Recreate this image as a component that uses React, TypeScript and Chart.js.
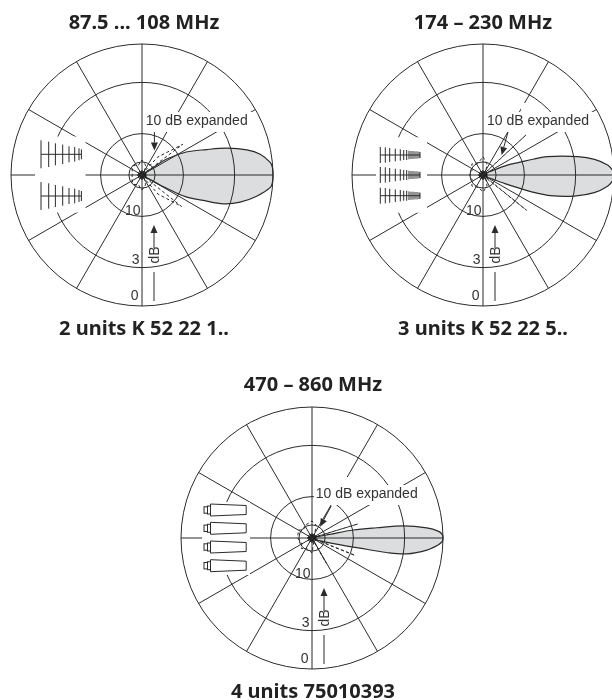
import React, { useEffect, useRef } from "react";
import { Chart, registerables } from "chart.js";

Chart.register(...registerables);

// Bearings of the polar axis, clockwise from the main lobe, half a degree apart.
const bearings = Array.from({ length: 720 }, (_, i) => i / 2);

// Relative field strength rings: centre, "10 dB expanded" 10 dB, 10 dB, 3 dB, 0 dB.
const ringLevels = [0, 0.1, 0.316, 0.707, 1];
const ringTickValues = [0.316, 0.707, 1];
const ringTickLabels = ["10", "3", "0"];

// 87.5 ... 108 MHz
const fmAngles = [0, 3, 5.5, 10.5, 15.5, 19.5, 22.5, 26.5, 28, 29, 31, 34, 326, 326.5, 327.2, 332.5, 338.3, 342.5, 346.5, 350, 354.5, 357];
const fmValues = [1, 0.998, 0.985, 0.89, 0.777, 0.66, 0.507, 0.37, 0.24, 0.12, 0.04, 0.02, 0.02, 0.1, 0.22, 0.38, 0.53, 0.68, 0.823, 0.916, 0.985, 0.998];
const fmDashAngles = [38, 38.5, 50, 56, 70, 90, 110, 135, 160, 200, 225, 250, 270, 290, 304, 311, 323, 323.5];
const fmDashValues = [0.03, 0.385, 0.19, 0.03, 0.08, 0.115, 0.08, 0.1, 0.08, 0.08, 0.1, 0.08, 0.115, 0.08, 0.03, 0.18, 0.39, 0.03];

// 174 - 230 MHz
const vhfAngles = [0, 2.5, 5, 9, 13, 17, 19, 20, 21.5, 23, 26, 334, 335, 338, 341, 342.5, 344, 349, 352, 355.4, 358];
const vhfValues = [1, 0.99, 0.957, 0.86, 0.716, 0.54, 0.4, 0.3, 0.18, 0.08, 0.02, 0.02, 0.08, 0.2, 0.3, 0.4, 0.51, 0.737, 0.86, 0.957, 0.99];
const vhfDashAngles = [38.5, 39, 46, 70, 90, 110, 135, 160, 180, 200, 225, 250, 270, 290, 314, 317, 317.5];
const vhfDashValues = [0.03, 0.427, 0.03, 0.09, 0.13, 0.1, 0.12, 0.09, 0.1, 0.09, 0.12, 0.1, 0.14, 0.09, 0.03, 0.45, 0.03];

// 470 - 860 MHz
const uhfAngles = [0, 1.5, 3.2, 6, 9.5, 11, 12, 14, 19, 26, 334, 347.5, 348.3, 349, 351, 352.5, 355.2, 357, 358.5];
const uhfValues = [1, 0.995, 0.968, 0.882, 0.734, 0.58, 0.374, 0.192, 0.06, 0.02, 0.02, 0.047, 0.138, 0.32, 0.5, 0.704, 0.88, 0.968, 0.995];
const uhfDashAngles = [21.5, 22, 25, 58, 60.5, 62, 90, 100, 120, 135, 150, 180, 210, 225, 240, 270, 290, 305, 340, 343, 343.5];
const uhfDashValues = [0.03, 0.355, 0.03, 0.03, 0.22, 0.03, 0.115, 0.1, 0.09, 0.115, 0.09, 0.11, 0.12, 0.09, 0.11, 0.13, 0.1, 0.03, 0.03, 0.365, 0.03];

// Rear-lobe cluster at the pole, common to all three diagrams.
const rearAngles = [0, 30, 45, 60, 75, 90, 105, 120, 135, 150, 165, 180, 195, 210, 225, 240, 255, 270, 285, 300, 315, 330];
const rearValues = [0.03, 0.036, 0.018, 0.034, 0.016, 0.036, 0.018, 0.034, 0.016, 0.036, 0.018, 0.036, 0.018, 0.034, 0.016, 0.036, 0.018, 0.034, 0.016, 0.036, 0.018, 0.034];

const titles = ["87.5 ... 108 MHz", "174 \u2013 230 MHz", "470 \u2013 860 MHz"];
const captions = ["2 units K 52 22 1..", "3 units K 52 22 5..", "4 units 75010393"];
const expandedLabel = "10 dB expanded";
const axisLabel = "dB";

const INK = "#2b2b2b";
const LOBE = "#dcddde";
const CANVAS = 290;
const PAD = 14;

const sparse = (angles: number[], values: number[]) => {
  const out: (number | null)[] = bearings.map(() => null);
  angles.forEach((a, i) => {
    out[Math.round(a * 2)] = values[i];
  });
  return out;
};

type Box = [number, number, number, number];
type Arrow = { from: [number, number]; tip: [number, number] };

const lineOf = (c: CanvasRenderingContext2D, x1: number, y1: number, x2: number, y2: number) => {
  c.beginPath();
  c.moveTo(x1, y1);
  c.lineTo(x2, y2);
  c.stroke();
};

const drawArrow = (c: CanvasRenderingContext2D, x0: number, y0: number, a: Arrow) => {
  const fx = x0 + a.from[0], fy = y0 + a.from[1], tx = x0 + a.tip[0], ty = y0 + a.tip[1];
  const len = Math.hypot(tx - fx, ty - fy);
  const ux = (tx - fx) / len, uy = (ty - fy) / len;
  const bx = tx - ux * 8, by = ty - uy * 8;
  lineOf(c, fx, fy, bx, by);
  c.beginPath();
  c.moveTo(tx, ty);
  c.lineTo(bx - uy * 3.5, by + ux * 3.5);
  c.lineTo(bx + uy * 3.5, by - ux * 3.5);
  c.closePath();
  c.fill();
};

const yagi = (xs: number[], halves: number[], booms: number[]) => (c: CanvasRenderingContext2D, x0: number, y0: number) => {
  booms.forEach((b) => {
    c.lineWidth = 1;
    lineOf(c, x0 + xs[0], y0 + b, x0 + xs[xs.length - 1], y0 + b);
    xs.forEach((x, i) => lineOf(c, x0 + x, y0 + b - halves[i], x0 + x, y0 + b + halves[i]));
  });
};

const panels = (c: CanvasRenderingContext2D, x0: number, y0: number) => {
  [-28, -9.7, 9, 27.7].forEach((b) => {
    c.lineWidth = 1;
    const y = y0 + b;
    c.strokeRect(x0 - 108, y - 3.2, 3.5, 6.4);
    c.strokeRect(x0 - 104.5, y - 4, 3, 8);
    c.beginPath();
    c.moveTo(x0 - 101.5, y - 6);
    c.lineTo(x0 - 65.8, y - 4.5);
    c.lineTo(x0 - 65.8, y + 4.5);
    c.lineTo(x0 - 101.5, y + 6);
    c.closePath();
    c.stroke();
  });
};

type Spec = {
  cx: number;
  cy: number;
  main: (number | null)[];
  dash: (number | null)[];
  masks: Box[];
  labelAt: [number, number];
  arrow: Arrow;
  antenna: (c: CanvasRenderingContext2D, x0: number, y0: number) => void;
};

const specs: Spec[] = [
  {
    cx: 142, cy: 175,
    main: sparse(fmAngles, fmValues),
    dash: sparse(fmDashAngles, fmDashValues),
    masks: [[-107, -38.5, 50.5, 76], [2, -63, 108, 20]],
    labelAt: [3.7, -54],
    arrow: { from: [12.4, -43], tip: [12.4, -24.5] },
    antenna: yagi([-101, -93.3, -86.6, -79.3, -73, -67.3, -63, -60.6], [14, 12.7, 11, 9.7, 8, 7.3, 6, 5], [-20.7, 21]),
  },
  {
    cx: 483, cy: 175,
    main: sparse(vhfAngles, vhfValues),
    dash: sparse(vhfDashAngles, vhfDashValues),
    masks: [[-107, -37.7, 51, 75.4], [2, -63, 108, 20], [38, -72, 12, 9]],
    labelAt: [4, -54],
    arrow: { from: [25, -43], tip: [18.6, -20] },
    antenna: yagi(
      [-102.7, -97.7, -93.3, -87.7, -82.7, -79.3, -76.3, -74, -72, -70, -68, -66, -64, -63],
      [8, 7.7, 7, 6.3, 5.7, 5, 5, 4.3, 4, 4, 3.7, 3.7, 3.3, 3],
      [-20, 0, 20.7]
    ),
  },
  {
    cx: 312, cy: 538,
    main: sparse(uhfAngles, uhfValues),
    dash: sparse(uhfDashAngles, uhfDashValues),
    masks: [[-110, -36, 48, 73], [2, -53, 94, 20], [21, -61, 17, 8]],
    labelAt: [3.7, -43.7],
    arrow: { from: [19.2, -32], tip: [8, -11.3] },
    antenna: panels,
  },
];

function Polar({ spec }: { spec: Spec }) {
  const ref = useRef<HTMLCanvasElement>(null);
  useEffect(() => {
    const overlay = {
      id: "overlay",
      afterDraw(chart: any) {
        const c: CanvasRenderingContext2D = chart.ctx;
        const s = chart.scales.r;
        const x0 = s.xCenter, y0 = s.yCenter;
        c.save();
        c.fillStyle = "#ffffff";
        spec.masks.forEach(([x, y, w, h]) => c.fillRect(x0 + x, y0 + y, w, h));
        c.strokeStyle = INK;
        c.fillStyle = INK;
        c.lineWidth = 1;
        spec.antenna(c, x0, y0);
        c.lineWidth = 1;
        c.fillStyle = "#333333";
        c.font = '14px "Liberation Sans"';
        c.textBaseline = "middle";
        c.textAlign = "left";
        c.fillText(expandedLabel, x0 + spec.labelAt[0], y0 + spec.labelAt[1]);
        c.textAlign = "right";
        ringTickValues.forEach((v, i) => {
          const d = s.getDistanceFromCenterForValue(v);
          c.fillText(ringTickLabels[i], x0 - 1.5 - i, y0 + d - 5 - i * 2.6);
        });
        c.fillStyle = INK;
        drawArrow(c, x0, y0, spec.arrow);
        // dB arrow below the pole
        drawArrow(c, x0, y0, { from: [12, 73], tip: [12, 50] });
        lineOf(c, x0 + 12, y0 + 97, x0 + 12, y0 + 126);
        c.save();
        c.translate(x0 + 13, y0 + 80);
        c.rotate(-Math.PI / 2);
        c.textAlign = "center";
        c.fillStyle = "#333333";
        c.fillText(axisLabel, 0, 0);
        c.restore();
        c.restore();
      },
    };
    const chart = new Chart(ref.current as HTMLCanvasElement, {
      type: "radar",
      data: {
        labels: bearings,
        datasets: [
          {
            data: sparse(rearAngles, rearValues),
            borderColor: "#111111",
            borderWidth: 1,
            backgroundColor: "#111111",
            fill: true,
            spanGaps: true,
            pointRadius: 0,
          },
          {
            data: spec.dash,
            borderColor: INK,
            borderWidth: 1,
            borderDash: [3, 2.5],
            fill: false,
            spanGaps: true,
            pointRadius: 0,
            segment: {
              borderColor: (ctx: any) => (ctx.p1DataIndex - ctx.p0DataIndex === 1 ? "rgba(0,0,0,0)" : undefined),
            },
          },
          {
            data: spec.main,
            borderColor: INK,
            borderWidth: 1.2,
            backgroundColor: LOBE,
            fill: true,
            spanGaps: true,
            tension: 0.35,
            pointRadius: 0,
          },
        ],
      } as any,
      options: {
        responsive: false,
        animation: false,
        layout: { padding: PAD },
        plugins: { legend: { display: false }, tooltip: { enabled: false }, title: { display: false } },
        scales: {
          r: {
            min: 0,
            max: 1,
            startAngle: 90,
            ticks: { display: false },
            pointLabels: { display: false },
            grid: { circular: true, color: INK, lineWidth: 1, z: 1 },
            angleLines: {
              color: INK,
              lineWidth: (ctx: any) => (ctx.index % 60 === 0 ? 1 : 0),
            },
            afterBuildTicks: (s: any) => {
              s.ticks = ringLevels.map((value) => ({ value }));
            },
          },
        },
      } as any,
      plugins: [overlay],
    });
    return () => chart.destroy();
  }, [spec]);
  return (
    <canvas
      ref={ref}
      width={CANVAS}
      height={CANVAS}
      style={{ position: "absolute", left: spec.cx - CANVAS / 2, top: spec.cy - CANVAS / 2, width: CANVAS, height: CANVAS }}
    />
  );
}

const textStyle = (cx: number, cy: number): React.CSSProperties => ({
  position: "absolute",
  left: cx - 150,
  top: cy - 14,
  width: 300,
  height: 28,
  lineHeight: "28px",
  textAlign: "center",
  fontFamily: '"Noto Sans", sans-serif',
  fontWeight: 700,
  fontSize: 20,
  color: "#222222",
  whiteSpace: "nowrap",
});

export default function App() {
  return (
    <div style={{ position: "absolute", left: 0, top: 0, width: 612, height: 700, overflow: "hidden", background: "#fff" }}>
      {specs.map((s, i) => (
        <Polar key={i} spec={s} />
      ))}
      <div style={textStyle(144, 22)}>{titles[0]}</div>
      <div style={textStyle(483, 22)}>{titles[1]}</div>
      <div style={textStyle(313, 384)}>{titles[2]}</div>
      <div style={textStyle(144, 328)}>{captions[0]}</div>
      <div style={textStyle(483, 328)}>{captions[1]}</div>
      <div style={textStyle(313, 691)}>{captions[2]}</div>
    </div>
  );
}
